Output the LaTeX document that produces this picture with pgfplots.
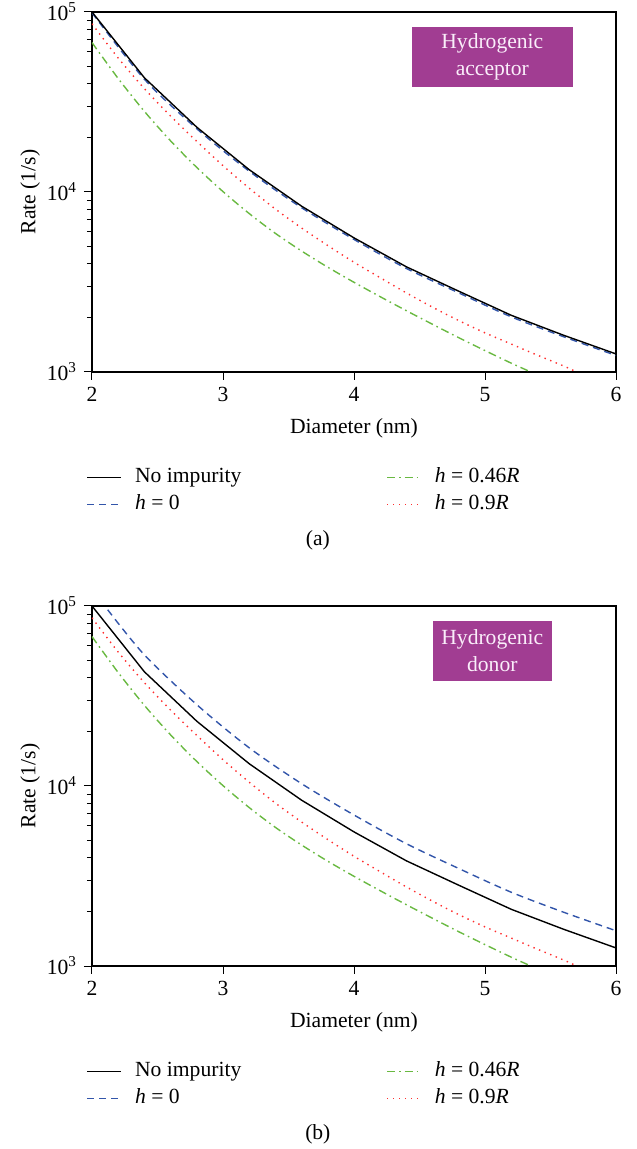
\documentclass[border=0pt]{standalone}
\usepackage{fontspec}
\setmainfont{Liberation Serif}
\usepackage{pgfplots}
\pgfplotsset{compat=1.18}

\definecolor{cblue}{RGB}{50,85,170}
\definecolor{cgreen}{RGB}{105,185,65}
\definecolor{cred}{RGB}{255,45,45}
\definecolor{boxpurple}{RGB}{161,61,146}
\definecolor{boxtext}{RGB}{250,238,250}

% no impurity (same in both panels)
\pgfplotstableread{
d r
2.0 100000
2.4 43100
2.8 22900
3.2 13300
3.6 8340
4.0 5560
4.4 3840
4.8 2810
5.2 2066
5.6 1600
6.0 1260
}\nonetab

\pgfplotstableread{
d r
2.0 99000
2.4 42300
2.8 22450
3.2 13050
3.6 8180
4.0 5450
4.4 3760
4.8 2750
5.2 2025
5.6 1570
6.0 1235
}\hzeroacc

\pgfplotstableread{
d r
2.12 95300
2.4 53500
2.8 28300
3.2 16300
3.6 10300
4.0 6900
4.4 4780
4.8 3480
5.2 2570
5.6 1990
6.0 1570
}\hzerodon

\pgfplotstableread{
d r
2.0 67600
2.2 42700
2.4 28050
2.6 19230
2.8 13680
3.0 10050
3.2 7590
3.4 5890
3.6 4700
3.8 3820
4.0 3150
4.2 2620
4.4 2190
4.6 1840
4.8 1550
5.0 1315
5.2 1120
5.35 1000
}\hmid

\pgfplotstableread{
d r
2.0 85900
2.2 55500
2.4 37500
2.6 26400
2.8 19100
3.0 14000
3.2 10500
3.4 8040
3.6 6310
3.8 5040
4.0 4070
4.2 3340
4.4 2750
4.6 2290
4.8 1930
5.0 1650
5.2 1430
5.4 1240
5.6 1080
5.7 1000
}\hedge

\tikzset{
  lnone/.style={black, line width=0.7pt},
  lzero/.style={cblue, line width=0.7pt, dash pattern=on 3.5pt off 2.5pt},
  lmid/.style={cgreen, line width=0.7pt, dash pattern=on 4pt off 2pt on 0.8pt off 2pt},
  ledge/.style={cred, line width=0.7pt, dash pattern=on 0.7pt off 2.3pt},
  tagbox/.style={fill=boxpurple, text=boxtext, align=center, inner sep=0pt,
    font=\fontsize{10.8}{13.5}\selectfont},
}

\begin{document}
\begin{tikzpicture}
\useasboundingbox (-46pt,-388.5pt) rectangle (272pt,186pt);

% (a) acceptor
\begin{axis}[
    at={(0pt,0pt)}, anchor=south west,
    scale only axis, width=262pt, height=180pt,
    ymode=log, xmin=2, xmax=6, ymin=1000, ymax=100000,
    xtick={2,3,4,5,6}, xticklabels={2,3,4,5,6},
    ytick={1000,10000,100000},
    yticklabels={10\textsuperscript{3},10\textsuperscript{4},10\textsuperscript{5}},
    minor ytick={2000,3000,4000,5000,6000,7000,8000,9000,20000,30000,40000,50000,60000,70000,80000,90000},
    tick pos=left, tick align=outside,
    major tick length=4pt, minor tick length=2.5pt,
    tick style={black, line width=0.5pt},
    axis line style={line width=0.8pt},
    clip mode=individual,
    ticklabel style={font=\fontsize{10.8}{13}\selectfont},
    label style={font=\fontsize{10.8}{13}\selectfont},
    xlabel={Diameter (nm)}, ylabel={Rate (1/s)},
    xlabel style={at={(axis description cs:0.5,-0.156)}, anchor=center},
    ylabel style={at={(axis description cs:-0.118,0.5)}, anchor=center},
    legend columns=2,
    legend cell align=left,
    legend style={draw=none, fill=none, font=\fontsize{10.8}{13}\selectfont,
      at={(axis description cs:-0.0225,-0.243)}, anchor=north west,
      nodes={inner sep=1.5pt, text height=8pt, text depth=2.5pt},
      /tikz/column 1/.style={column sep=5pt},
      /tikz/column 2/.style={column sep=71pt},
      /tikz/column 3/.style={column sep=5pt}},
]
\addlegendimage{lnone}\addlegendentry{No impurity}
\addlegendimage{lmid}\addlegendentry{\textit{h} = 0.46\textit{R}}
\addlegendimage{lzero}\addlegendentry{\textit{h} = 0}
\addlegendimage{ledge}\addlegendentry{\textit{h} = 0.9\textit{R}}
\addplot[lmid, smooth, forget plot] table[x=d, y=r] {\hmid};
\addplot[ledge, smooth, forget plot] table[x=d, y=r] {\hedge};
\addplot[lzero, smooth, forget plot] table[x=d, y=r] {\hzeroacc};
\addplot[lnone, forget plot] table[x=d, y=r] {\nonetab};
\node[tagbox, minimum width=80.5pt, minimum height=30pt] at (axis description cs:0.764,0.875) {Hydrogenic\\acceptor};
\node[font=\fontsize{10.8}{13}\selectfont] at (axis description cs:0.431,-0.467) {(a)};
\end{axis}

% (b) donor
\begin{axis}[
    at={(0pt,-297pt)}, anchor=south west,
    scale only axis, width=262pt, height=180pt,
    ymode=log, xmin=2, xmax=6, ymin=1000, ymax=100000,
    xtick={2,3,4,5,6}, xticklabels={2,3,4,5,6},
    ytick={1000,10000,100000},
    yticklabels={10\textsuperscript{3},10\textsuperscript{4},10\textsuperscript{5}},
    minor ytick={2000,3000,4000,5000,6000,7000,8000,9000,20000,30000,40000,50000,60000,70000,80000,90000},
    tick pos=left, tick align=outside,
    major tick length=4pt, minor tick length=2.5pt,
    tick style={black, line width=0.5pt},
    axis line style={line width=0.8pt},
    clip mode=individual,
    ticklabel style={font=\fontsize{10.8}{13}\selectfont},
    label style={font=\fontsize{10.8}{13}\selectfont},
    xlabel={Diameter (nm)}, ylabel={Rate (1/s)},
    xlabel style={at={(axis description cs:0.5,-0.156)}, anchor=center},
    ylabel style={at={(axis description cs:-0.118,0.5)}, anchor=center},
    legend columns=2,
    legend cell align=left,
    legend style={draw=none, fill=none, font=\fontsize{10.8}{13}\selectfont,
      at={(axis description cs:-0.0225,-0.243)}, anchor=north west,
      nodes={inner sep=1.5pt, text height=8pt, text depth=2.5pt},
      /tikz/column 1/.style={column sep=5pt},
      /tikz/column 2/.style={column sep=71pt},
      /tikz/column 3/.style={column sep=5pt}},
]
\addlegendimage{lnone}\addlegendentry{No impurity}
\addlegendimage{lmid}\addlegendentry{\textit{h} = 0.46\textit{R}}
\addlegendimage{lzero}\addlegendentry{\textit{h} = 0}
\addlegendimage{ledge}\addlegendentry{\textit{h} = 0.9\textit{R}}
\addplot[lmid, smooth, forget plot] table[x=d, y=r] {\hmid};
\addplot[ledge, smooth, forget plot] table[x=d, y=r] {\hedge};
\addplot[lzero, smooth, forget plot] table[x=d, y=r] {\hzerodon};
\addplot[lnone, forget plot] table[x=d, y=r] {\nonetab};
\node[tagbox, minimum width=59.5pt, minimum height=30pt] at (axis description cs:0.764,0.876) {Hydrogenic\\donor};
\node[font=\fontsize{10.8}{13}\selectfont] at (axis description cs:0.431,-0.467) {(b)};
\end{axis}
\end{tikzpicture}
\end{document}
